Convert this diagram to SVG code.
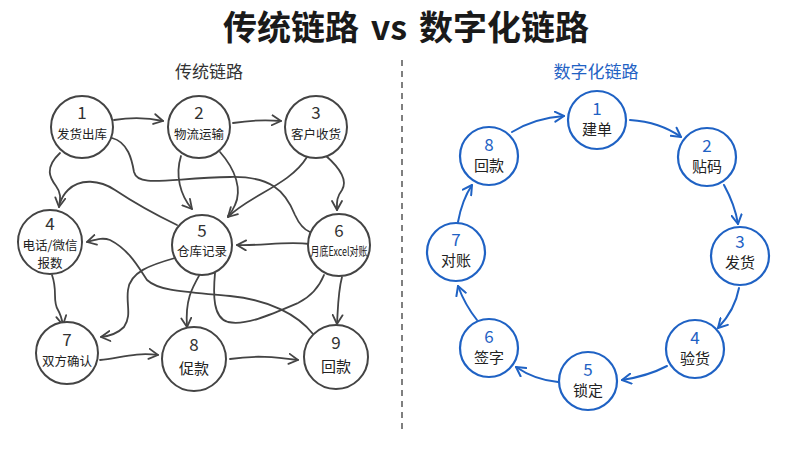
<svg xmlns="http://www.w3.org/2000/svg" width="800" height="450" viewBox="0 0 800 450">
<style>
.t{font-family:"Noto Sans CJK SC","Noto Sans",sans-serif;text-anchor:middle}
.dk circle{fill:#fff;stroke:#444;stroke-width:2}
.bl circle{fill:#fff;stroke:#1f62c4;stroke-width:2.2}
.num{font-size:17px;fill:#333}
.bnum{font-size:17px;fill:#1f62c4}
.lab{font-size:12.5px;fill:#222}
.blab{font-size:15px;fill:#222}
.cl path{fill:none;stroke:#444;stroke-width:1.8;stroke-linecap:round}
.cr path{fill:none;stroke:#1f62c4;stroke-width:2;stroke-linecap:round}
</style>
<defs>
<marker id="ad" viewBox="0 0 12 12" refX="10" refY="6" markerWidth="12" markerHeight="12" markerUnits="userSpaceOnUse" orient="auto"><path d="M1,1 L10,6 L1,11" fill="none" stroke="#444" stroke-width="1.8" stroke-linecap="round" stroke-linejoin="round"/></marker>
<marker id="ab" viewBox="0 0 12 12" refX="10" refY="6" markerWidth="12" markerHeight="12" markerUnits="userSpaceOnUse" orient="auto"><path d="M1,1 L10,6 L1,11" fill="none" stroke="#1f62c4" stroke-width="2" stroke-linecap="round" stroke-linejoin="round"/></marker>
</defs>
<rect width="800" height="450" fill="#fff"/>
<text class="t" x="406" y="40" style="font-size:34px;font-weight:700;fill:#1a1a1a;word-spacing:4px">传统链路 vs 数字化链路</text>
<text class="t" x="209" y="78" style="font-size:17px;fill:#333">传统链路</text>
<text class="t" x="596" y="78" style="font-size:17px;fill:#1f62c4">数字化链路</text>
<line x1="402" y1="60" x2="402" y2="432" stroke="#555" stroke-width="1.5" stroke-dasharray="6,5"/>

<g id="connectors-left" class="cl">
<path d="M114,120 Q140,116 163,121" marker-end="url(#ad)"/>
<path d="M233,123 Q258,119 281,121" marker-end="url(#ad)"/>
<path d="M60,153 C44,168 50,178 56,186 C62,194 60,200 59,207" marker-end="url(#ad)"/>
<path d="M177,225 C150,212 130,200 115,190 C100,180 80,178 68,190 C63,195 61,200 60,203"/>
<path d="M112,138 C128,142 132,160 134,172 C138,188 170,178 230,177 C270,176 285,190 295,215 C300,226 305,230 310,232"/>
<path d="M181,156 C175,175 180,195 192,209" marker-end="url(#ad)"/>
<path d="M220,152 C236,170 242,190 235,205 C233,210 231,213 228,216"/>
<path d="M307,157 C290,185 250,195 228,217" marker-end="url(#ad)"/>
<path d="M325,155 C340,168 348,180 342,190 C336,198 337,203 337,210" marker-end="url(#ad)"/>
<path d="M310,244 C285,241 262,246 237,245" marker-end="url(#ad)"/>
<path d="M52,275 C58,292 52,300 58,310 C61,315 62,320 63,325" marker-end="url(#ad)"/>
<path d="M175,258 C150,265 130,272 128,290 C126,305 132,315 124,327 C118,333 110,336 101,337" marker-end="url(#ad)"/>
<path d="M313,334 C298,315 270,300 230,296 C190,292 160,292 147,280 C140,270 130,250 110,240 C102,237 95,240 87,242" marker-end="url(#ad)"/>
<path d="M200,274 C192,288 185,300 187,327" marker-end="url(#ad)"/>
<path d="M215,273 C213,295 213,318 228,322 C245,326 270,315 298,303 C312,296 320,285 324,275"/>
<path d="M342,277 C338,292 338,308 337,324" marker-end="url(#ad)"/>
<path d="M100,360 C120,358 135,352 158,355" marker-end="url(#ad)"/>
<path d="M230,359 C255,355 275,357 298,360" marker-end="url(#ad)"/>
</g>

<g id="L1" class="dk"><circle cx="82" cy="127" r="31"/><text class="t num" x="82" y="119">1</text><text class="t lab" x="82" y="139">发货出库</text></g>
<g id="L2" class="dk"><circle cx="199" cy="127" r="31"/><text class="t num" x="199" y="119">2</text><text class="t lab" x="199" y="139">物流运输</text></g>
<g id="L3" class="dk"><circle cx="316" cy="127" r="31"/><text class="t num" x="316" y="119">3</text><text class="t lab" x="316" y="139">客户收货</text></g>
<g id="L4" class="dk"><circle cx="50" cy="242" r="32"/><text class="t num" x="50" y="230">4</text><text class="t lab" x="50" y="250">电话/微信</text><text class="t lab" x="50" y="268">报数</text></g>
<g id="L5" class="dk"><circle cx="202" cy="245" r="30"/><text class="t num" x="202" y="237">5</text><text class="t lab" x="202" y="256">仓库记录</text></g>
<g id="L6" class="dk"><circle cx="339" cy="245" r="31"/><text class="t num" x="339" y="237">6</text><text class="t lab" x="339" y="256" textLength="57" lengthAdjust="spacingAndGlyphs">月底Excel对账</text></g>
<g id="L7" class="dk"><circle cx="67" cy="353" r="31"/><text class="t num" x="67" y="346">7</text><text class="t lab" x="67" y="366">双方确认</text></g>
<g id="L8" class="dk"><circle cx="194" cy="359" r="32"/><text class="t num" x="194" y="351">8</text><text class="t" x="194" y="374" style="font-size:15px;fill:#222">促款</text></g>
<g id="L9" class="dk"><circle cx="336" cy="357" r="32"/><text class="t num" x="336" y="349">9</text><text class="t" x="336" y="372" style="font-size:15px;fill:#222">回款</text></g>

<g id="connectors-right" class="cr">
<path d="M512,132 Q535,118 564,116" marker-end="url(#ab)"/>
<path d="M630,120 Q660,122 681,137" marker-end="url(#ab)"/>
<path d="M724,185 Q735,205 738,224" marker-end="url(#ab)"/>
<path d="M739,288 Q735,310 718,328" marker-end="url(#ab)"/>
<path d="M667,366 Q648,376 622,380" marker-end="url(#ab)"/>
<path d="M558,382 Q535,380 516,367" marker-end="url(#ab)"/>
<path d="M477,320 Q465,305 458,286" marker-end="url(#ab)"/>
<path d="M458,222 Q462,200 472,185" marker-end="url(#ab)"/>
</g>

<g id="R1" class="bl"><circle cx="597" cy="120" r="29"/><text class="t bnum" x="597" y="115">1</text><text class="t blab" x="597" y="135">建单</text></g>
<g id="R2" class="bl"><circle cx="707" cy="157" r="29"/><text class="t bnum" x="707" y="152">2</text><text class="t blab" x="707" y="172">贴码</text></g>
<g id="R3" class="bl"><circle cx="740" cy="256" r="29"/><text class="t bnum" x="740" y="248">3</text><text class="t blab" x="740" y="268">发货</text></g>
<g id="R4" class="bl"><circle cx="695" cy="349" r="29"/><text class="t bnum" x="695" y="344">4</text><text class="t blab" x="695" y="364">验货</text></g>
<g id="R5" class="bl"><circle cx="588" cy="381" r="29"/><text class="t bnum" x="588" y="376">5</text><text class="t blab" x="588" y="396">锁定</text></g>
<g id="R6" class="bl"><circle cx="489" cy="348" r="29"/><text class="t bnum" x="489" y="343">6</text><text class="t blab" x="489" y="363">签字</text></g>
<g id="R7" class="bl"><circle cx="456" cy="252" r="29"/><text class="t bnum" x="456" y="246">7</text><text class="t blab" x="456" y="266">对账</text></g>
<g id="R8" class="bl"><circle cx="489" cy="156" r="29"/><text class="t bnum" x="489" y="151">8</text><text class="t blab" x="489" y="171">回款</text></g>
</svg>
